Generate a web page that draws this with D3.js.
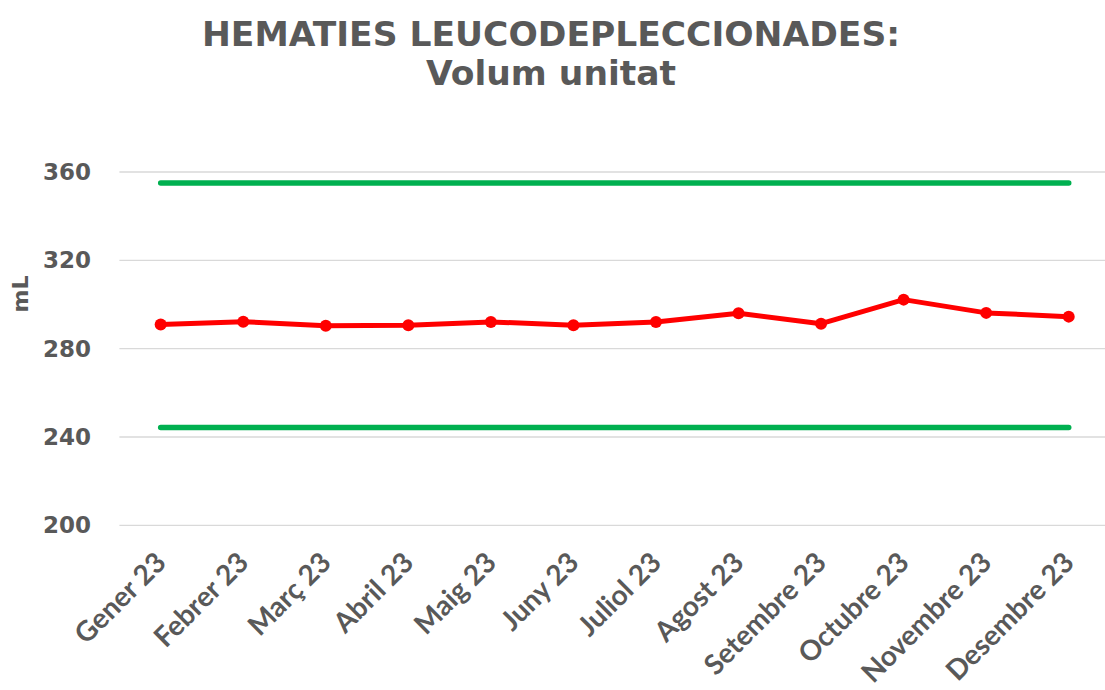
<!DOCTYPE html>
<html lang="ca">
<head>
<meta charset="UTF-8" />
<title>Hematies leucodeplecciónades: volum unitat</title>
<script src="https://d3js.org/d3.v7.min.js"></script>
<style>
    body { margin: 0; background: #fff; }
    svg { display: block; }
</style>
</head>
<body>
<svg id="chart" width="1105" height="690"></svg>
<script>
    // dades
    const mesos = ["Gener 23", "Febrer 23", "Març 23", "Abril 23", "Maig 23", "Juny 23",
        "Juliol 23", "Agost 23", "Setembre 23", "Octubre 23", "Novembre 23", "Desembre 23"];
    const volum = [290.9, 292.2, 290.4, 290.6, 292.1, 290.6, 292.1, 296.0, 291.3, 302.2, 296.2, 294.5];
    const limitSuperior = [355, 355, 355, 355, 355, 355, 355, 355, 355, 355, 355, 355];
    const limitInferior = [244.3, 244.3, 244.3, 244.3, 244.3, 244.3, 244.3, 244.3, 244.3, 244.3, 244.3, 244.3];
    const yTicks = [200, 240, 280, 320, 360];

    const grey = "#595959";
    const svg = d3.select("#chart");

    const x = d3.scaleBand().domain(mesos).range([119.4, 1110]);
    const y = d3.scaleLinear().domain([200, 360]).range([525.3, 172]);
    const cx = d => x(d) + x.bandwidth() / 2;

    // títol
    const title = svg.append("text")
        .attr("x", 551).attr("text-anchor", "middle")
        .attr("font-family", "DejaVu Sans").attr("font-weight", "bold")
        .attr("font-size", 34.5).attr("fill", grey);
    title.append("tspan").attr("x", 551).attr("y", 46).text("HEMATIES LEUCODEPLECCIONADES:");
    title.append("tspan").attr("x", 551).attr("y", 85).text("Volum unitat");

    // graella
    svg.append("g").selectAll("line").data(yTicks).join("line")
        .attr("x1", 119.4).attr("x2", 1105)
        .attr("y1", d => y(d)).attr("y2", d => y(d))
        .attr("stroke", "#d9d9d9").attr("stroke-width", 1.3);

    // eix Y
    const yAxis = svg.append("g").attr("transform", "translate(91,0)")
        .call(d3.axisLeft(y).tickValues(yTicks).tickSize(0).tickPadding(0));
    yAxis.select(".domain").remove();
    yAxis.selectAll("text")
        .attr("font-family", "DejaVu Sans").attr("font-weight", "bold")
        .attr("font-size", 23).attr("fill", grey);

    svg.append("text")
        .attr("transform", "translate(28,294) rotate(-90)")
        .attr("text-anchor", "middle")
        .attr("font-family", "DejaVu Sans").attr("font-weight", "bold")
        .attr("font-size", 22).attr("fill", grey)
        .text("mL");

    // eix X
    const xAxis = svg.append("g").attr("transform", "translate(0,525.3)")
        .call(d3.axisBottom(x).tickSize(0).tickPadding(0));
    xAxis.select(".domain").remove();
    xAxis.selectAll("text")
        .attr("font-family", "Lato").attr("font-weight", "bold")
        .attr("font-size", 28).attr("fill", grey)
        .attr("text-anchor", "end")
        .attr("dy", 0)
        .attr("transform", "translate(7,39) rotate(-45)");

    // límits
    const linia = d3.line().x((d, i) => cx(mesos[i])).y(d => y(d));
    svg.append("path").datum(limitSuperior).attr("d", linia)
        .attr("fill", "none").attr("stroke", "#00b050").attr("stroke-width", 5.5)
        .attr("stroke-linecap", "round");
    svg.append("path").datum(limitInferior).attr("d", linia)
        .attr("fill", "none").attr("stroke", "#00b050").attr("stroke-width", 5.5)
        .attr("stroke-linecap", "round");

    // sèrie
    svg.append("path").datum(volum).attr("d", linia)
        .attr("fill", "none").attr("stroke", "#ff0000").attr("stroke-width", 5)
        .attr("stroke-linejoin", "round");
    svg.append("g").selectAll("circle").data(volum).join("circle")
        .attr("cx", (d, i) => cx(mesos[i])).attr("cy", d => y(d))
        .attr("r", 6).attr("fill", "#ff0000");
</script>
</body>
</html>
